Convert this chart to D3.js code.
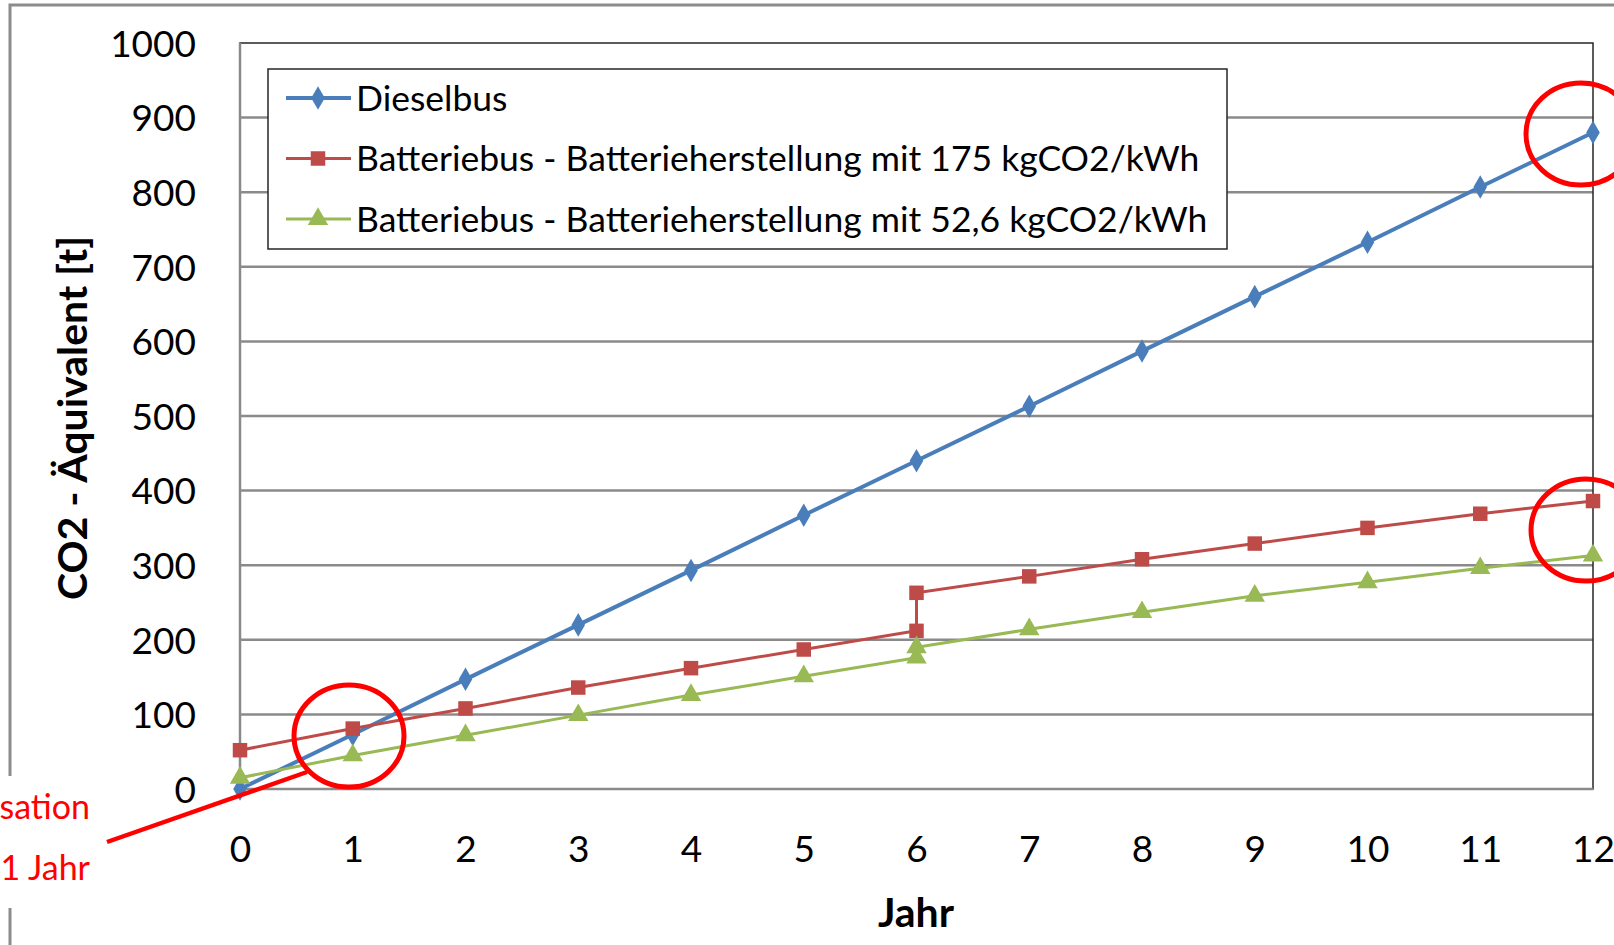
<!DOCTYPE html>
<html><head><meta charset="utf-8">
<script src="https://cdn.jsdelivr.net/npm/d3@7"></script>
<style>
html,body{margin:0;padding:0;background:#fff;overflow:hidden;}
text{font-family:Lato,"Open Sans",sans-serif;}
</style></head>
<body>
<svg id="chart" width="1614" height="945"></svg>
<script>
const years = [0,1,2,3,4,5,6,7,8,9,10,11,12];
const yTicks = [0,100,200,300,400,500,600,700,800,900,1000];
const seriesNames = ["Dieselbus",
  "Batteriebus - Batterieherstellung mit 175 kgCO2/kWh",
  "Batteriebus - Batterieherstellung mit 52,6 kgCO2/kWh"];
// Dieselbus
const dieselX = [0,1,2,3,4,5,6,7,8,9,10,11,12];
const dieselY = [0,73,147,220,293,367,440,513,587,660,733,807,880];
// Batteriebus 175 kgCO2/kWh (battery replacement in year 6)
const bat175X = [0,1,2,3,4,5,6,6,7,8,9,10,11,12];
const bat175Y = [52,81,108,136,162,187,212,263,285,308,329,350,369,386];
// Batteriebus 52,6 kgCO2/kWh
const bat52X = [0,1,2,3,4,5,6,6,7,8,9,10,11,12];
const bat52Y = [15,45,72,99,126,151,176,190,214,237,259,277,296,313];
const annotationLines = ["Amortisation", "nach 1 Jahr"];

const colors = ["#4A7EBB","#BE4B48","#98B954"];
const svg = d3.select("#chart");

// outer frame
svg.append("rect").attr("x",10).attr("y",5).attr("width",1700).attr("height",1000)
  .attr("fill","none").attr("stroke","#8c8c8c").attr("stroke-width",3);

const L=240, R=1593, T=43, B=789;
const x = d3.scaleLinear().domain([0,12]).range([L,R]);
const y = d3.scaleLinear().domain([0,1000]).range([B,T]);

// gridlines
svg.append("g").selectAll("line").data(yTicks.filter(d=>d>0 && d<1000)).join("line")
  .attr("x1",L).attr("x2",R).attr("y1",d=>y(d)).attr("y2",d=>y(d))
  .attr("stroke","#8a8a8a").attr("stroke-width",2.5);
// plot border
svg.append("rect").attr("x",L).attr("y",T).attr("width",R-L).attr("height",B-T)
  .attr("fill","none").attr("stroke","#262626").attr("stroke-width",1.5);
// axes lines (gray)
svg.append("line").attr("x1",L).attr("x2",L).attr("y1",T).attr("y2",B).attr("stroke","#8a8a8a").attr("stroke-width",2.5);
svg.append("line").attr("x1",L).attr("x2",R).attr("y1",B).attr("y2",B).attr("stroke","#8a8a8a").attr("stroke-width",2.5);

// axes via d3
const yAxis = d3.axisLeft(y).tickValues(yTicks).tickSize(0).tickPadding(0).tickFormat(d3.format("d"));
const gy = svg.append("g").attr("transform",`translate(${L-44},0)`).call(yAxis);
gy.select(".domain").remove();
gy.selectAll("text").attr("font-size",37).attr("fill","#000").attr("dy","0.36em");

const xAxis = d3.axisBottom(x).tickValues(years).tickSize(0).tickPadding(0).tickFormat(d3.format("d"));
const gx = svg.append("g").attr("transform",`translate(0,${B+60})`).call(xAxis);
gx.select(".domain").remove();
gx.selectAll("text").attr("font-size",37).attr("fill","#000").attr("dy","0.36em");

// axis titles
svg.append("text").attr("transform","translate(72,418) rotate(-90)").attr("text-anchor","middle")
  .attr("dy","0.36em").attr("font-size",41).attr("font-weight","bold").text("CO2 - Äquivalent [t]");
svg.append("text").attr("x",916).attr("y",912).attr("text-anchor","middle")
  .attr("dy","0.36em").attr("font-size",41).attr("font-weight","bold").text("Jahr");

const line = d3.line().x(d=>x(d[0])).y(d=>y(d[1]));
const series = [
  {pts: d3.zip(dieselX, dieselY), w:4, sym:d3.symbolDiamond, size:160},
  {pts: d3.zip(bat175X, bat175Y), w:3, sym:d3.symbolSquare, size:210},
  {pts: d3.zip(bat52X, bat52Y), w:3, sym:d3.symbolTriangle, size:180},
];
series.forEach((s,i)=>{
  svg.append("path").attr("d",line(s.pts)).attr("fill","none").attr("stroke",colors[i]).attr("stroke-width",s.w);
  svg.append("g").selectAll("path").data(s.pts).join("path")
    .attr("transform",d=>`translate(${x(d[0])},${y(d[1])})`)
    .attr("d",d3.symbol().type(s.sym).size(s.size)).attr("fill",colors[i]);
});

// legend
const lg = svg.append("g");
lg.append("rect").attr("x",268).attr("y",69).attr("width",959).attr("height",180)
  .attr("fill","#fff").attr("stroke","#262626").attr("stroke-width",1.5);
const rowsY=[98,158.5,219];
series.forEach((s,i)=>{
  lg.append("line").attr("x1",286).attr("x2",351).attr("y1",rowsY[i]).attr("y2",rowsY[i])
    .attr("stroke",colors[i]).attr("stroke-width",s.w);
  lg.append("path").attr("transform",`translate(318,${rowsY[i]})`)
    .attr("d",d3.symbol().type(s.sym).size(s.size)).attr("fill",colors[i]);
  lg.append("text").attr("x",356).attr("y",rowsY[i]).attr("dy","0.36em")
    .attr("font-size",35.5).attr("fill","#000").text(seriesNames[i]);
});

// annotations
const red="#ff0000";
svg.append("rect").attr("x",0).attr("y",776).attr("width",104).attr("height",132).attr("fill","#fff");
annotationLines.forEach((t,i)=>{
  svg.append("text").attr("x",90).attr("y",[807,868][i]).attr("dy","0.36em").attr("text-anchor","end")
    .attr("font-size",34).attr("fill",red).text(t);
});
svg.append("line").attr("x1",107).attr("y1",842).attr("x2",307).attr("y2",772).attr("stroke",red).attr("stroke-width",4.5);
[[349,736],[1581,134],[1586,530]].forEach(c=>{
  svg.append("ellipse").attr("cx",c[0]).attr("cy",c[1]).attr("rx",55).attr("ry",51)
    .attr("fill","none").attr("stroke",red).attr("stroke-width",5);
});
</script>
</body></html>
